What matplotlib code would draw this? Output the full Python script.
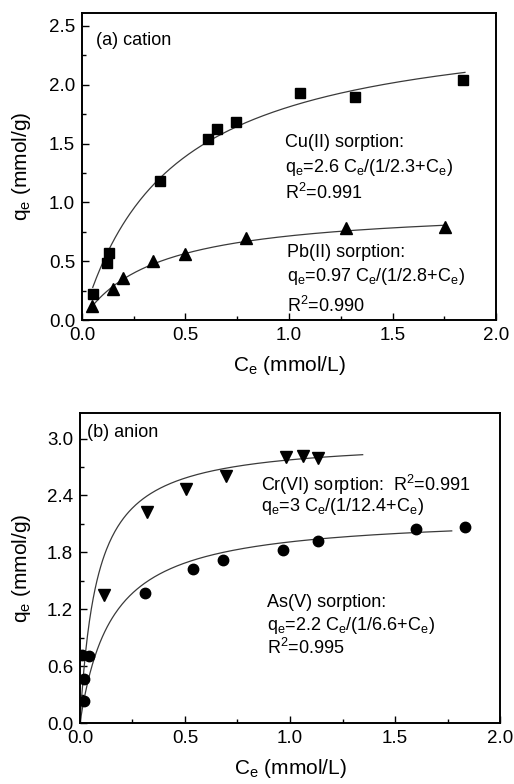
import matplotlib
matplotlib.use("Agg")
import matplotlib.pyplot as plt
import numpy as np
from matplotlib.ticker import MultipleLocator

plt.rcParams["font.family"] = ["Liberation Sans", "DejaVu Sans"]
plt.rcParams["mathtext.fontset"] = "custom"
plt.rcParams["mathtext.rm"] = "Liberation Sans"
plt.rcParams["mathtext.it"] = "Liberation Sans"
plt.rcParams["mathtext.default"] = "regular"

# panel (a): cations
cu_c = [0.052, 0.122, 0.132, 0.377, 0.609, 0.654, 0.744, 1.053, 1.32, 1.84]
cu_q = [0.224, 0.483, 0.573, 1.18, 1.54, 1.62, 1.68, 1.93, 1.90, 2.04]
pb_c = [0.05, 0.151, 0.198, 0.341, 0.499, 0.791, 1.277, 1.754]
pb_q = [0.119, 0.26, 0.355, 0.505, 0.562, 0.70, 0.78, 0.795]

# panel (b): anions
cr_c = [0.116, 0.319, 0.503, 0.697, 0.98, 1.063, 1.132]
cr_q = [1.35, 2.23, 2.47, 2.61, 2.807, 2.82, 2.80]
as_c = [0.019, 0.019, 0.011, 0.044, 0.308, 0.538, 0.681, 0.967, 1.135, 1.599, 1.832]
as_q = [0.232, 0.463, 0.716, 0.71, 1.37, 1.62, 1.716, 1.828, 1.923, 2.05, 2.07]

# Langmuir fits as printed on the chart: qmax, b, fitted C range
cu_fit = (2.6, 2.3, 0.052, 1.85)
pb_fit = (0.97, 2.8, 0.05, 1.75)
cr_fit = (3.0, 12.4, 0.0, 1.346)
as_fit = (2.2, 6.6, 0.0, 1.77)

LINE = "#3a3a3a"


def langmuir(fit):
    qmax, b, c0, c1 = fit
    c = np.linspace(c0, c1, 300)
    return c, qmax * c / (1.0 / b + c)


def style(ax, ymax, ymajor):
    ax.set_xlim(0, 2.0)
    ax.set_ylim(0, ymax)
    ax.xaxis.set_major_locator(MultipleLocator(0.5))
    ax.xaxis.set_minor_locator(MultipleLocator(0.25))
    ax.yaxis.set_major_locator(MultipleLocator(ymajor))
    ax.yaxis.set_minor_locator(MultipleLocator(ymajor / 2))
    ax.tick_params(which="both", direction="in", top=False, right=False, labelsize=13.5, pad=5)
    ax.tick_params(which="major", length=5, width=1.0)
    ax.tick_params(which="minor", length=3, width=1.0)
    for s in ax.spines.values():
        s.set_linewidth(1.4)
    ax.set_xlabel("C$_e$ (mmol/L)", fontsize=15, labelpad=7)
    ax.set_ylabel("q$_e$ (mmol/g)", fontsize=15)


fig = plt.figure(figsize=(5.14, 7.84), dpi=100)
ax1 = fig.add_axes([0.1595, 0.5918, 0.8055, 0.3916])
ax2 = fig.add_axes([0.1556, 0.0778, 0.8172, 0.3954])

# (a)
c, q = langmuir(cu_fit)
ax1.plot(c, q, color=LINE, lw=0.9)
c, q = langmuir(pb_fit)
ax1.plot(c, q, color=LINE, lw=0.9)
ax1.plot(cu_c, cu_q, "s", color="black", ms=7)
ax1.plot(pb_c, pb_q, "^", color="black", ms=8.5)
style(ax1, 2.61, 0.5)
ax1.yaxis.set_label_coords(-0.118, 0.5)

fs = 13
ax1.text(0.068, 2.376, "(a) cation", fontsize=fs, va="center")
ax1.text(0.98, 1.51, "Cu(II) sorption:", fontsize=fs, va="center")
ax1.text(0.98, 1.295, "q$_e$=2.6 C$_e$/(1/2.3+C$_e$)", fontsize=fs, va="center")
ax1.text(0.98, 1.08, "R$^2$=0.991", fontsize=fs, va="center")
ax1.text(0.99, 0.573, "Pb(II) sorption:", fontsize=fs, va="center")
ax1.text(0.99, 0.372, "q$_e$=0.97 C$_e$/(1/2.8+C$_e$)", fontsize=fs, va="center")
ax1.text(0.99, 0.119, "R$^2$=0.990", fontsize=fs, va="center")

# (b)
c, q = langmuir(cr_fit)
ax2.plot(c, q, color=LINE, lw=0.9)
c, q = langmuir(as_fit)
ax2.plot(c, q, color=LINE, lw=0.9)
ax2.plot(cr_c, cr_q, "v", color="black", ms=8.5)
ax2.plot(as_c, as_q, "o", color="black", ms=7.5)
style(ax2, 3.27, 0.6)
ax2.yaxis.set_label_coords(-0.112, 0.5)

ax2.text(0.033, 3.06, "(b) anion", fontsize=fs, va="center")
ax2.text(0.862, 2.51, "Cr(VI) sorption:  R$^2$=0.991", fontsize=fs, va="center")
ax2.text(0.862, 2.28, "q$_e$=3 C$_e$/(1/12.4+C$_e$)", fontsize=fs, va="center")
ax2.text(0.89, 1.274, "As(V) sorption:", fontsize=fs, va="center")
ax2.text(0.89, 1.03, "q$_e$=2.2 C$_e$/(1/6.6+C$_e$)", fontsize=fs, va="center")
ax2.text(0.89, 0.79, "R$^2$=0.995", fontsize=fs, va="center")

fig.savefig("out.png", dpi=100)
plt.close(fig)
